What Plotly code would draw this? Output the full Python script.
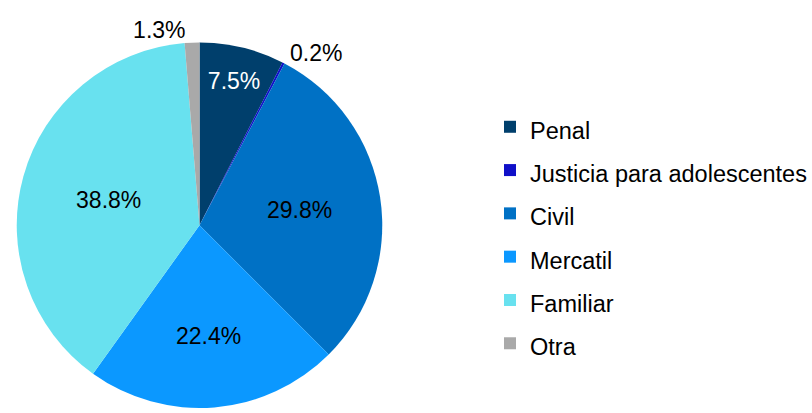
import plotly.graph_objects as go

categories = ["Penal", "Justicia para adolescentes", "Civil", "Mercatil", "Familiar", "Otra"]
values = [7.5, 0.2, 29.8, 22.4, 38.8, 1.3]
colors = ["#003F6C", "#1010C8", "#0071C5", "#0B98FF", "#68E1EF", "#A9A9A9"]
text_colors = ["#FFFFFF", "#000000", "#000000", "#000000", "#000000", "#000000"]
positions = ["inside", "outside", "inside", "inside", "inside", "outside"]

legend_labels = ['<span style="font-size:23.5px">%s</span>' % c for c in categories]

fig = go.Figure(go.Pie(
    labels=legend_labels,
    values=values,
    sort=False,
    direction="clockwise",
    rotation=0,
    marker=dict(colors=colors, line=dict(width=0)),
    texttemplate="%{value:.1f}%",
    textposition=positions,
    insidetextorientation="horizontal",
    textfont=dict(family="Liberation Sans, Arial", size=23, color=text_colors),
    outsidetextfont=dict(family="Liberation Sans, Arial", size=23, color="#000000"),
    domain=dict(x=[14/812, 385/812], y=[0, 370/413]),
    hoverinfo="skip",
))

fig.update_layout(
    width=812, height=413,
    margin=dict(l=0, r=0, t=0, b=0),
    paper_bgcolor="white",
    font=dict(family="Liberation Sans, Arial", color="#000000"),
    showlegend=True,
    legend=dict(
        x=1.0, y=0.7546, xanchor="right", yanchor="top",
        font=dict(size=31, color="#000000"),
        borderwidth=0,
        itemclick=False, itemdoubleclick=False,
    ),
)

fig.write_html(
    "out.html",
    config={"displayModeBar": False},
    post_script="document.body.style.margin='0';document.body.style.overflow='hidden';",
)
